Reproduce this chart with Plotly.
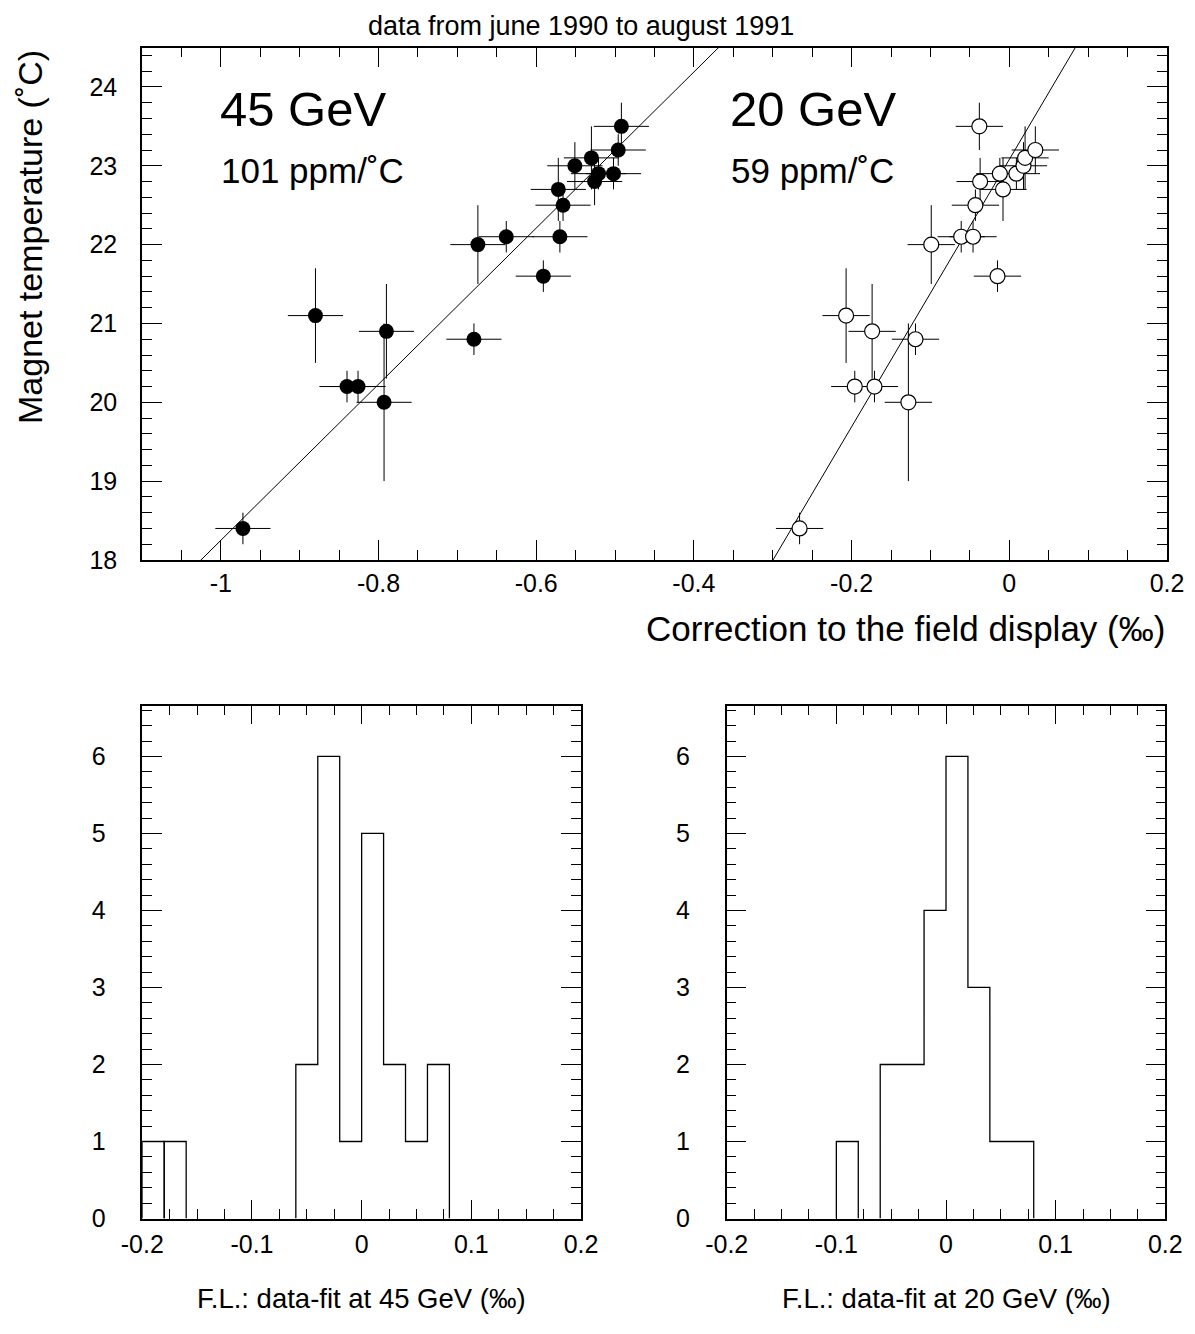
import numpy as np
import plotly.graph_objects as go

# ---------------- data ----------------
# 45 GeV: correction to field display (permil) vs magnet temperature (C)
corr_45 = [-0.972, -0.880, -0.840, -0.826, -0.790, -0.793, -0.679, -0.674, -0.638, -0.591,
           -0.570, -0.566, -0.572, -0.551, -0.530, -0.521, -0.526, -0.502, -0.496, -0.492]
temp_45 = [18.4, 21.1, 20.2, 20.2, 20.9, 20.0, 20.8, 22.0, 22.1, 21.6,
           22.1, 22.5, 22.7, 23.0, 23.1, 22.9, 22.8, 22.9, 23.2, 23.5]
temp_err_45 = [0.2, 0.6, 0.2, 0.2, 0.6, 1.0, 0.2, 0.5, 0.2, 0.2,
               0.2, 0.2, 0.4, 0.3, 0.4, 0.2, 0.3, 0.2, 0.2, 0.3]
corr_err_45 = 0.035

# 20 GeV
corr_20 = [-0.266, -0.207, -0.174, -0.196, -0.171, -0.119, -0.128, -0.099, -0.061, -0.046,
           -0.015, -0.043, -0.037, -0.038, -0.008, -0.012, 0.009, 0.018, 0.020, 0.033]
temp_20 = [18.4, 21.1, 20.9, 20.2, 20.2, 20.8, 20.0, 22.0, 22.1, 22.1,
           21.6, 22.5, 22.8, 23.5, 22.7, 22.9, 22.9, 23.0, 23.1, 23.2]
temp_err_20 = [0.2, 0.6, 0.6, 0.2, 0.2, 0.2, 1.0, 0.5, 0.2, 0.2,
               0.2, 0.2, 0.3, 0.3, 0.4, 0.2, 0.2, 0.3, 0.4, 0.3]
corr_err_20 = 0.03

# linear fits: T = intercept + slope * correction
fit_45 = {"intercept": 28.15, "slope": 9.90}
fit_20 = {"intercept": 23.08, "slope": 16.95}

# residual histograms (bins of 0.02 from -0.2 to 0.2)
hist_lo = -0.2
hist_width = 0.02
counts_45 = [1, 1, 0, 0, 0, 0, 0, 2, 6, 1, 5, 2, 1, 2, 0, 0, 0, 0, 0, 0]
breaks_45 = [1]          # outline is drawn with a separator before this bin
counts_20 = [0, 0, 0, 0, 0, 1, 0, 2, 2, 4, 6, 3, 1, 1, 0, 0, 0, 0, 0, 0]
breaks_20 = []

top_xticks = [-1.0, -0.8, -0.6, -0.4, -0.2, 0.0, 0.2]
top_xtext = ["-1", "-0.8", "-0.6", "-0.4", "-0.2", "0", "0.2"]
top_yticks = [18, 19, 20, 21, 22, 23, 24]
hist_xticks = [-0.2, -0.1, 0.0, 0.1, 0.2]
hist_xtext = ["-0.2", "-0.1", "0", "0.1", "0.2"]
hist_yticks = [0, 1, 2, 3, 4, 5, 6]

FONT = "Liberation Sans, Arial, Helvetica, sans-serif"
OFF = 8                      # page body margin
W, H = 1195 - OFF, 1334 - OFF


def px(x):
    return (x - OFF) / W


def py(y):
    return 1 - (y - OFF) / H


def step_path(counts, lo, w, breaks):
    xs, ys = [], []
    n = len(counts)
    i = 0
    while i < n:
        if counts[i] == 0:
            i += 1
            continue
        j = i
        xs.append(lo + i * w)
        ys.append(0)
        while j < n and counts[j] > 0 and (j == i or j not in breaks):
            xs += [lo + j * w, lo + (j + 1) * w]
            ys += [counts[j], counts[j]]
            j += 1
        xs += [lo + j * w, None]
        ys += [0, None]
        i = j
    return xs, ys


fig = go.Figure()

# fit lines
xr = np.array([-1.1, 0.2])
for fit in (fit_45, fit_20):
    fig.add_trace(go.Scatter(x=xr, y=fit["intercept"] + fit["slope"] * xr, mode="lines",
                             line=dict(color="black", width=1), xaxis="x", yaxis="y",
                             showlegend=False, hoverinfo="skip"))

fig.add_trace(go.Scatter(
    x=corr_45, y=temp_45, mode="markers",
    marker=dict(symbol="circle", size=15, color="black"),
    error_x=dict(type="constant", value=corr_err_45, color="black", thickness=1, width=0),
    error_y=dict(type="data", array=temp_err_45, color="black", thickness=1, width=0),
    xaxis="x", yaxis="y", showlegend=False))
fig.add_trace(go.Scatter(
    x=corr_20, y=temp_20, mode="markers",
    marker=dict(symbol="circle", size=15, color="white", line=dict(color="black", width=1.2)),
    error_x=dict(type="constant", value=corr_err_20, color="black", thickness=1, width=0),
    error_y=dict(type="data", array=temp_err_20, color="black", thickness=1, width=0),
    xaxis="x", yaxis="y", showlegend=False))

hx, hy = step_path(counts_45, hist_lo, hist_width, breaks_45)
fig.add_trace(go.Scatter(x=hx, y=hy, mode="lines", line=dict(color="black", width=1.3),
                         xaxis="x2", yaxis="y2", showlegend=False, connectgaps=False))
hx, hy = step_path(counts_20, hist_lo, hist_width, breaks_20)
fig.add_trace(go.Scatter(x=hx, y=hy, mode="lines", line=dict(color="black", width=1.3),
                         xaxis="x3", yaxis="y3", showlegend=False, connectgaps=False))


def axis(domain, rng, tickvals, ticktext, major_len, minor_dtick, minor_len, anchor, standoff):
    return dict(
        domain=domain, range=rng, anchor=anchor, autorange=False, automargin=False,
        showline=True, linecolor="black", linewidth=1.5, mirror="ticks",
        ticks="inside", ticklen=major_len, tickwidth=1, tickcolor="black",
        tickmode="array", tickvals=tickvals, ticktext=ticktext,
        tickfont=dict(family=FONT, size=25, color="black"),
        ticklabelstandoff=standoff,
        showgrid=False, zeroline=False,
        minor=dict(tickmode="linear", tick0=0, dtick=minor_dtick, ticks="inside",
                   ticklen=minor_len, tickwidth=1, tickcolor="black", showgrid=False),
    )


top_dom_x = [px(142), px(1167)]
top_dom_y = [py(560), py(47.5)]
hl_dom_x = [px(142.3), px(581)]
hr_dom_x = [px(726.7), px(1165.3)]
h_dom_y = [py(1218.5), py(705.6)]

fig.update_layout(
    width=W, height=H,
    margin=dict(l=0, r=0, t=0, b=0, pad=0, autoexpand=False),
    paper_bgcolor="white", plot_bgcolor="white",
    font=dict(family=FONT, color="black"),
    showlegend=False,
    xaxis=axis(top_dom_x, [-1.1, 0.2], top_xticks, top_xtext, 20, 0.05, 10, "y", 0),
    yaxis=axis(top_dom_y, [18, 24.5], top_yticks, [str(v) for v in top_yticks], 20, 0.2, 10, "x", 18),
    xaxis2=axis(hl_dom_x, [-0.2, 0.2], hist_xticks, hist_xtext, 19, 0.025, 10, "y2", 3),
    yaxis2=axis(h_dom_y, [0, 6.66], hist_yticks, [str(v) for v in hist_yticks], 20, 0.2, 10, "x2", 30),
    xaxis3=axis(hr_dom_x, [-0.2, 0.2], hist_xticks, hist_xtext, 19, 0.025, 10, "y3", 3),
    yaxis3=axis(h_dom_y, [0, 6.66], hist_yticks, [str(v) for v in hist_yticks], 20, 0.2, 10, "x3", 30),
)

ann = []


def add_text(text, x, y, size, xanchor="left", yanchor="middle", angle=0):
    ann.append(dict(text=text, x=px(x), y=py(y), xref="paper", yref="paper",
                    xanchor=xanchor, yanchor=yanchor, showarrow=False, textangle=angle,
                    font=dict(family=FONT, size=size, color="black")))


add_text("data from june 1990 to august 1991", 581, 9, 27, xanchor="center", yanchor="top")
add_text("45 GeV", 218, 109, 49)
add_text("101 ppm/˚C", 219, 170, 35)
add_text("20 GeV", 728, 109, 49)
add_text("59 ppm/˚C", 729, 170, 35)
add_text("Correction to the field display (‰)", 1167, 628, 35, xanchor="right")
add_text("Magnet temperature (˚C)", 30, 237, 34, xanchor="center", angle=-90)
add_text("F.L.: data-fit at 45 GeV (‰)", 361.7, 1298, 27.5, xanchor="center")
add_text("F.L.: data-fit at 20 GeV (‰)", 946, 1298, 27.5, xanchor="center")
fig.update_layout(annotations=ann)

fig.write_html("out.html")
